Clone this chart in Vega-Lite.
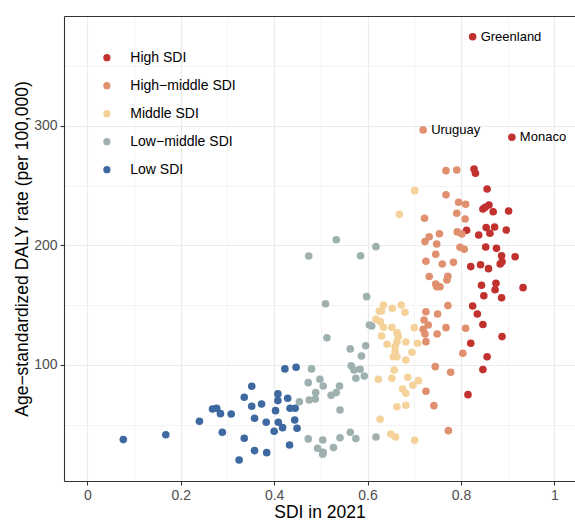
{
"$schema":"https://vega.github.io/schema/vega-lite/v6.json",
"width":511,"height":465,
"autosize":{"type":"none"},
"padding":{"left":64,"top":16,"right":0,"bottom":40},
"background":"white",
"config":{"font":"Liberation Sans","view":{"stroke":null},
 "axis":{"domainColor":"#333333","domainWidth":1.1,"tickColor":"#333333","tickWidth":1.1,"tickSize":4,"labelColor":"#4D4D4D","labelFontSize":14,"titleFontSize":17.5,"titleFontWeight":"normal","titleColor":"#000000","gridColor":"#EBEBEB","labelFont":"Liberation Sans","titleFont":"Liberation Sans"}},
"resolve":{"axis":{"x":"independent"}},
"data":{"values":[
{"sdi":0.825,"daly":374.4,"group":"High SDI","label":"Greenland"},
{"sdi":0.909,"daly":290.3,"group":"High SDI","label":"Monaco"},
{"sdi":0.828,"daly":263.8,"group":"High SDI"},
{"sdi":0.831,"daly":260.2,"group":"High SDI"},
{"sdi":0.856,"daly":247.1,"group":"High SDI"},
{"sdi":0.847,"daly":230.4,"group":"High SDI"},
{"sdi":0.852,"daly":231.8,"group":"High SDI"},
{"sdi":0.860,"daly":233.7,"group":"High SDI"},
{"sdi":0.869,"daly":228.1,"group":"High SDI"},
{"sdi":0.902,"daly":228.7,"group":"High SDI"},
{"sdi":0.812,"daly":212.6,"group":"High SDI"},
{"sdi":0.838,"daly":208.6,"group":"High SDI"},
{"sdi":0.854,"daly":214.8,"group":"High SDI"},
{"sdi":0.862,"daly":210.1,"group":"High SDI"},
{"sdi":0.872,"daly":215.3,"group":"High SDI"},
{"sdi":0.897,"daly":212.8,"group":"High SDI"},
{"sdi":0.853,"daly":198.6,"group":"High SDI"},
{"sdi":0.876,"daly":197.5,"group":"High SDI"},
{"sdi":0.887,"daly":191.3,"group":"High SDI"},
{"sdi":0.888,"daly":186.3,"group":"High SDI"},
{"sdi":0.884,"daly":184.4,"group":"High SDI"},
{"sdi":0.916,"daly":190.5,"group":"High SDI"},
{"sdi":0.821,"daly":182.2,"group":"High SDI"},
{"sdi":0.842,"daly":183.8,"group":"High SDI"},
{"sdi":0.859,"daly":180.5,"group":"High SDI"},
{"sdi":0.844,"daly":166.6,"group":"High SDI"},
{"sdi":0.875,"daly":168.3,"group":"High SDI"},
{"sdi":0.873,"daly":162.9,"group":"High SDI"},
{"sdi":0.849,"daly":157.9,"group":"High SDI"},
{"sdi":0.887,"daly":156.2,"group":"High SDI"},
{"sdi":0.933,"daly":164.6,"group":"High SDI"},
{"sdi":0.825,"daly":149.3,"group":"High SDI"},
{"sdi":0.835,"daly":142.6,"group":"High SDI"},
{"sdi":0.847,"daly":133.8,"group":"High SDI"},
{"sdi":0.888,"daly":123.7,"group":"High SDI"},
{"sdi":0.821,"daly":118.1,"group":"High SDI"},
{"sdi":0.856,"daly":106.9,"group":"High SDI"},
{"sdi":0.847,"daly":96.1,"group":"High SDI"},
{"sdi":0.815,"daly":75.2,"group":"High SDI"},
{"sdi":0.719,"daly":296.4,"group":"High−middle SDI","label":"Uruguay"},
{"sdi":0.768,"daly":262.4,"group":"High−middle SDI"},
{"sdi":0.791,"daly":263.0,"group":"High−middle SDI"},
{"sdi":0.722,"daly":222.6,"group":"High−middle SDI"},
{"sdi":0.768,"daly":242.3,"group":"High−middle SDI"},
{"sdi":0.795,"daly":236.0,"group":"High−middle SDI"},
{"sdi":0.810,"daly":234.3,"group":"High−middle SDI"},
{"sdi":0.791,"daly":226.8,"group":"High−middle SDI"},
{"sdi":0.809,"daly":222.0,"group":"High−middle SDI"},
{"sdi":0.732,"daly":207.2,"group":"High−middle SDI"},
{"sdi":0.723,"daly":203.1,"group":"High−middle SDI"},
{"sdi":0.748,"daly":201.1,"group":"High−middle SDI"},
{"sdi":0.754,"daly":209.7,"group":"High−middle SDI"},
{"sdi":0.792,"daly":211.2,"group":"High−middle SDI"},
{"sdi":0.802,"daly":209.5,"group":"High−middle SDI"},
{"sdi":0.798,"daly":198.4,"group":"High−middle SDI"},
{"sdi":0.807,"daly":196.7,"group":"High−middle SDI"},
{"sdi":0.746,"daly":192.5,"group":"High−middle SDI"},
{"sdi":0.725,"daly":186.7,"group":"High−middle SDI"},
{"sdi":0.760,"daly":184.4,"group":"High−middle SDI"},
{"sdi":0.784,"daly":185.8,"group":"High−middle SDI"},
{"sdi":0.732,"daly":174.0,"group":"High−middle SDI"},
{"sdi":0.772,"daly":174.1,"group":"High−middle SDI"},
{"sdi":0.770,"daly":171.0,"group":"High−middle SDI"},
{"sdi":0.746,"daly":167.7,"group":"High−middle SDI"},
{"sdi":0.748,"daly":165.4,"group":"High−middle SDI"},
{"sdi":0.755,"daly":165.4,"group":"High−middle SDI"},
{"sdi":0.772,"daly":149.6,"group":"High−middle SDI"},
{"sdi":0.725,"daly":144.5,"group":"High−middle SDI"},
{"sdi":0.750,"daly":142.6,"group":"High−middle SDI"},
{"sdi":0.721,"daly":137.6,"group":"High−middle SDI"},
{"sdi":0.730,"daly":133.4,"group":"High−middle SDI"},
{"sdi":0.719,"daly":129.8,"group":"High−middle SDI"},
{"sdi":0.723,"daly":125.9,"group":"High−middle SDI"},
{"sdi":0.749,"daly":125.9,"group":"High−middle SDI"},
{"sdi":0.768,"daly":131.2,"group":"High−middle SDI"},
{"sdi":0.810,"daly":130.7,"group":"High−middle SDI"},
{"sdi":0.725,"daly":119.5,"group":"High−middle SDI"},
{"sdi":0.804,"daly":109.8,"group":"High−middle SDI"},
{"sdi":0.745,"daly":98.6,"group":"High−middle SDI"},
{"sdi":0.778,"daly":93.9,"group":"High−middle SDI"},
{"sdi":0.725,"daly":78.0,"group":"High−middle SDI"},
{"sdi":0.742,"daly":66.0,"group":"High−middle SDI"},
{"sdi":0.773,"daly":45.1,"group":"High−middle SDI"},
{"sdi":0.701,"daly":245.7,"group":"Middle SDI"},
{"sdi":0.668,"daly":225.9,"group":"Middle SDI"},
{"sdi":0.634,"daly":150.1,"group":"Middle SDI"},
{"sdi":0.625,"daly":145.1,"group":"Middle SDI"},
{"sdi":0.630,"daly":145.1,"group":"Middle SDI"},
{"sdi":0.653,"daly":147.4,"group":"Middle SDI"},
{"sdi":0.672,"daly":150.1,"group":"Middle SDI"},
{"sdi":0.680,"daly":144.0,"group":"Middle SDI"},
{"sdi":0.618,"daly":138.2,"group":"Middle SDI"},
{"sdi":0.627,"daly":136.2,"group":"Middle SDI"},
{"sdi":0.634,"daly":131.5,"group":"Middle SDI"},
{"sdi":0.652,"daly":131.5,"group":"Middle SDI"},
{"sdi":0.630,"daly":124.2,"group":"Middle SDI"},
{"sdi":0.663,"daly":127.0,"group":"Middle SDI"},
{"sdi":0.666,"daly":123.7,"group":"Middle SDI"},
{"sdi":0.663,"daly":119.5,"group":"Middle SDI"},
{"sdi":0.642,"daly":117.3,"group":"Middle SDI"},
{"sdi":0.659,"daly":115.3,"group":"Middle SDI"},
{"sdi":0.682,"daly":119.2,"group":"Middle SDI"},
{"sdi":0.700,"daly":131.2,"group":"Middle SDI"},
{"sdi":0.707,"daly":118.1,"group":"Middle SDI"},
{"sdi":0.659,"daly":111.1,"group":"Middle SDI"},
{"sdi":0.695,"daly":110.6,"group":"Middle SDI"},
{"sdi":0.655,"daly":106.9,"group":"Middle SDI"},
{"sdi":0.663,"daly":106.9,"group":"Middle SDI"},
{"sdi":0.682,"daly":104.2,"group":"Middle SDI"},
{"sdi":0.657,"daly":95.8,"group":"Middle SDI"},
{"sdi":0.623,"daly":88.0,"group":"Middle SDI"},
{"sdi":0.652,"daly":88.9,"group":"Middle SDI"},
{"sdi":0.686,"daly":89.7,"group":"Middle SDI"},
{"sdi":0.709,"daly":86.9,"group":"Middle SDI"},
{"sdi":0.697,"daly":83.0,"group":"Middle SDI"},
{"sdi":0.675,"daly":79.9,"group":"Middle SDI"},
{"sdi":0.682,"daly":76.3,"group":"Middle SDI"},
{"sdi":0.663,"daly":65.1,"group":"Middle SDI"},
{"sdi":0.682,"daly":66.3,"group":"Middle SDI"},
{"sdi":0.627,"daly":54.6,"group":"Middle SDI"},
{"sdi":0.650,"daly":42.3,"group":"Middle SDI"},
{"sdi":0.660,"daly":39.8,"group":"Middle SDI"},
{"sdi":0.701,"daly":37.1,"group":"Middle SDI"},
{"sdi":0.513,"daly":122.8,"group":"Low−middle SDI"},
{"sdi":0.563,"daly":113.4,"group":"Low−middle SDI"},
{"sdi":0.596,"daly":116.1,"group":"Low−middle SDI"},
{"sdi":0.587,"daly":107.5,"group":"Low−middle SDI"},
{"sdi":0.604,"daly":133.4,"group":"Low−middle SDI"},
{"sdi":0.609,"daly":132.6,"group":"Low−middle SDI"},
{"sdi":0.480,"daly":96.7,"group":"Low−middle SDI"},
{"sdi":0.565,"daly":99.2,"group":"Low−middle SDI"},
{"sdi":0.571,"daly":95.8,"group":"Low−middle SDI"},
{"sdi":0.584,"daly":96.4,"group":"Low−middle SDI"},
{"sdi":0.593,"daly":90.8,"group":"Low−middle SDI"},
{"sdi":0.575,"daly":88.9,"group":"Low−middle SDI"},
{"sdi":0.498,"daly":88.0,"group":"Low−middle SDI"},
{"sdi":0.473,"daly":85.2,"group":"Low−middle SDI"},
{"sdi":0.505,"daly":82.4,"group":"Low−middle SDI"},
{"sdi":0.540,"daly":82.4,"group":"Low−middle SDI"},
{"sdi":0.489,"daly":76.9,"group":"Low−middle SDI"},
{"sdi":0.533,"daly":76.9,"group":"Low−middle SDI"},
{"sdi":0.522,"daly":74.6,"group":"Low−middle SDI"},
{"sdi":0.488,"daly":71.6,"group":"Low−middle SDI"},
{"sdi":0.475,"daly":70.7,"group":"Low−middle SDI"},
{"sdi":0.454,"daly":69.3,"group":"Low−middle SDI"},
{"sdi":0.541,"daly":62.4,"group":"Low−middle SDI"},
{"sdi":0.473,"daly":38.2,"group":"Low−middle SDI"},
{"sdi":0.504,"daly":37.3,"group":"Low−middle SDI"},
{"sdi":0.541,"daly":39.2,"group":"Low−middle SDI"},
{"sdi":0.563,"daly":43.8,"group":"Low−middle SDI"},
{"sdi":0.575,"daly":38.5,"group":"Low−middle SDI"},
{"sdi":0.618,"daly":39.8,"group":"Low−middle SDI"},
{"sdi":0.493,"daly":30.4,"group":"Low−middle SDI"},
{"sdi":0.504,"daly":25.4,"group":"Low−middle SDI"},
{"sdi":0.505,"daly":27.0,"group":"Low−middle SDI"},
{"sdi":0.527,"daly":30.9,"group":"Low−middle SDI"},
{"sdi":0.533,"daly":204.7,"group":"Low−middle SDI"},
{"sdi":0.474,"daly":191.1,"group":"Low−middle SDI"},
{"sdi":0.585,"daly":191.3,"group":"Low−middle SDI"},
{"sdi":0.618,"daly":198.9,"group":"Low−middle SDI"},
{"sdi":0.510,"daly":151.2,"group":"Low−middle SDI"},
{"sdi":0.598,"daly":157.1,"group":"Low−middle SDI"},
{"sdi":0.077,"daly":37.6,"group":"Low SDI"},
{"sdi":0.168,"daly":41.7,"group":"Low SDI"},
{"sdi":0.240,"daly":52.9,"group":"Low SDI"},
{"sdi":0.268,"daly":63.2,"group":"Low SDI"},
{"sdi":0.277,"daly":63.8,"group":"Low SDI"},
{"sdi":0.285,"daly":59.3,"group":"Low SDI"},
{"sdi":0.308,"daly":59.0,"group":"Low SDI"},
{"sdi":0.289,"daly":43.7,"group":"Low SDI"},
{"sdi":0.336,"daly":38.7,"group":"Low SDI"},
{"sdi":0.325,"daly":20.6,"group":"Low SDI"},
{"sdi":0.358,"daly":28.4,"group":"Low SDI"},
{"sdi":0.384,"daly":26.7,"group":"Low SDI"},
{"sdi":0.352,"daly":82.2,"group":"Low SDI"},
{"sdi":0.336,"daly":73.0,"group":"Low SDI"},
{"sdi":0.352,"daly":65.5,"group":"Low SDI"},
{"sdi":0.373,"daly":67.4,"group":"Low SDI"},
{"sdi":0.358,"daly":55.5,"group":"Low SDI"},
{"sdi":0.383,"daly":52.1,"group":"Low SDI"},
{"sdi":0.403,"daly":61.8,"group":"Low SDI"},
{"sdi":0.408,"daly":75.8,"group":"Low SDI"},
{"sdi":0.408,"daly":70.2,"group":"Low SDI"},
{"sdi":0.429,"daly":72.2,"group":"Low SDI"},
{"sdi":0.423,"daly":96.7,"group":"Low SDI"},
{"sdi":0.447,"daly":98.1,"group":"Low SDI"},
{"sdi":0.434,"daly":63.8,"group":"Low SDI"},
{"sdi":0.445,"daly":63.8,"group":"Low SDI"},
{"sdi":0.444,"daly":54.0,"group":"Low SDI"},
{"sdi":0.409,"daly":52.1,"group":"Low SDI"},
{"sdi":0.418,"daly":47.6,"group":"Low SDI"},
{"sdi":0.400,"daly":44.6,"group":"Low SDI"},
{"sdi":0.449,"daly":47.1,"group":"Low SDI"},
{"sdi":0.433,"daly":33.1,"group":"Low SDI"}
]},
"layer":[
{"mark":{"type":"point","filled":true,"size":58,"opacity":1},
 "encoding":{
  "x":{"field":"sdi","type":"quantitative","scale":{"domain":[-0.05,1.0442],"nice":false,"zero":false},
   "axis":{"title":"SDI in 2021","values":[0,0.1,0.2,0.3,0.4,0.5,0.6,0.7,0.8,0.9,1],"format":"~g",
    "labelExpr":"round(datum.value*10)%2==0 ? datum.label : ''",
    "gridWidth":{"condition":{"test":"round(datum.value*10)%2==1","value":0.55},"value":1.1},
    "tickOpacity":{"condition":{"test":"round(datum.value*10)%2==1","value":0},"value":1},
    "labelPadding":3,"titlePadding":1}},
  "y":{"field":"daly","type":"quantitative","scale":{"domain":[3,391.7],"nice":false,"zero":false},
   "axis":{"title":"Age−standardized DALY rate (per 100,000)","values":[50,100,150,200,250,300,350],
    "labelExpr":"datum.value%100==0 ? datum.label : ''",
    "gridWidth":{"condition":{"test":"datum.value%100==50","value":0.55},"value":1.1},
    "tickOpacity":{"condition":{"test":"datum.value%100==50","value":0},"value":1},
    "labelPadding":3,"titlePadding":2}},
  "color":{"field":"group","type":"nominal",
   "scale":{"domain":["High SDI","High−middle SDI","Middle SDI","Low−middle SDI","Low SDI"],"range":["#C1312E","#E0906F","#F4D29A","#9EB0AF","#3E68A0"]},
   "legend":{"title":null,"orient":"none","legendX":35.9,"legendY":34.7,"labelFontSize":14,"labelColor":"#000000","symbolSize":52,"symbolType":"circle","rowPadding":14,"labelOffset":16.4,"padding":0,"symbolStrokeWidth":0,"labelFont":"Liberation Sans"}}
 }},
{"transform":[{"filter":"datum.label != null"}],
 "mark":{"type":"text","align":"left","baseline":"middle","dx":8,"fontSize":13,"color":"#000000"},
 "encoding":{
  "x":{"field":"sdi","type":"quantitative","axis":{"orient":"top","title":null,"labels":false,"ticks":false,"grid":false,"domain":true}},
  "y":{"field":"daly","type":"quantitative"},
  "text":{"field":"label"}
 }}
]
}
